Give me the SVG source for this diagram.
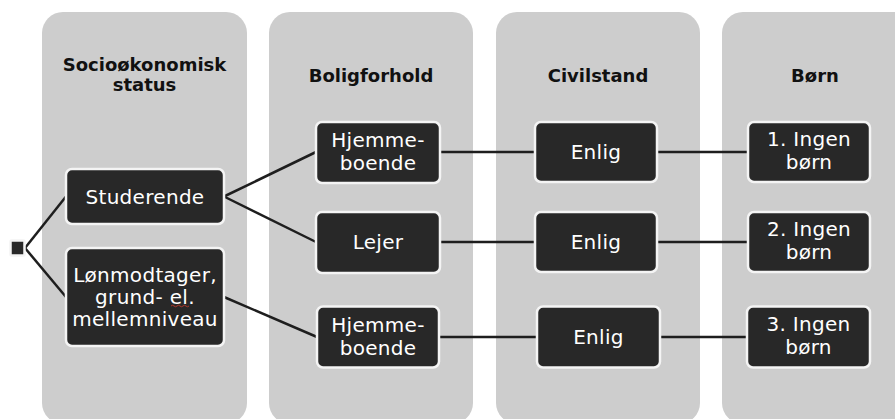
<svg xmlns="http://www.w3.org/2000/svg" width="895" height="419" viewBox="0 0 895 419">
<style>
.col{fill:#cdcdcd}
.hdr{font-family:"DejaVu Sans","Liberation Sans",sans-serif;font-weight:bold;font-size:18px;fill:#111;text-anchor:middle}
.box{fill:#282828;stroke:#f4f4f4;stroke-width:2.5}
.lbl{font-family:"DejaVu Sans","Liberation Sans",sans-serif;font-size:20px;fill:#ffffff;text-anchor:middle;letter-spacing:0.3px}
.con{stroke:#1e1e1e;stroke-width:2.5;fill:none}
</style>
<rect width="895" height="419" fill="#ffffff"/>
<g id="columns">
<rect class="col" x="42" y="12" width="205" height="412" rx="21"/>
<rect class="col" x="269" y="12" width="204" height="412" rx="21"/>
<rect class="col" x="496" y="12" width="204" height="412" rx="21"/>
<rect class="col" x="722" y="12" width="204" height="412" rx="21"/>
<text class="hdr" x="144.5" y="71">Socioøkonomisk</text>
<text class="hdr" x="144.5" y="91">status</text>
<text class="hdr" x="371" y="82">Boligforhold</text>
<text class="hdr" x="598" y="82">Civilstand</text>
<text class="hdr" x="815" y="82">Børn</text>
</g>
<g id="connectors">
<line class="con" x1="25" y1="248" x2="66" y2="196.5"/>
<line class="con" x1="25" y1="248" x2="66" y2="297"/>
<line class="con" x1="224" y1="196.5" x2="316" y2="152"/>
<line class="con" x1="224" y1="196.5" x2="316" y2="242"/>
<line class="con" x1="224" y1="297" x2="317" y2="337"/>
<line class="con" x1="440" y1="152" x2="535" y2="152"/>
<line class="con" x1="657" y1="152" x2="748" y2="152"/>
<line class="con" x1="440" y1="242" x2="535" y2="242"/>
<line class="con" x1="657" y1="242" x2="748" y2="242"/>
<line class="con" x1="439" y1="337" x2="537" y2="337"/>
<line class="con" x1="660" y1="337" x2="747" y2="337"/>
</g>
<g id="root"><rect class="box" x="10.5" y="240.5" width="14" height="15" rx="1" stroke-width="1.5"/></g>
<g id="studerende"><rect class="box" x="66" y="169" width="158" height="55" rx="6"/><text class="lbl" x="145" y="203.5">Studerende</text></g>
<g id="loenmodtager"><rect class="box" x="66" y="248" width="158" height="98" rx="6"/>
<text class="lbl" x="145" y="281.5">Lønmodtager,</text><text class="lbl" x="145" y="303.5">grund- el.</text><text class="lbl" x="145" y="325.5">mellemniveau</text>
<path d="M171 306 q1.5 -1.5 3 0 t3 0 t3 0 t3 0 t3 0 t3 0" stroke="#c0392b" stroke-width="0.9" fill="none"/></g>
<g id="hjemme1"><rect class="box" x="316" y="122" width="124" height="61" rx="6"/><text class="lbl" x="378" y="147">Hjemme-</text><text class="lbl" x="378" y="170">boende</text></g>
<g id="lejer"><rect class="box" x="316" y="212" width="124" height="61" rx="6"/><text class="lbl" x="378" y="249">Lejer</text></g>
<g id="hjemme3"><rect class="box" x="317" y="306.5" width="122" height="61" rx="6"/><text class="lbl" x="378" y="332">Hjemme-</text><text class="lbl" x="378" y="355">boende</text></g>
<g id="enlig1"><rect class="box" x="535" y="122" width="122" height="60" rx="6"/><text class="lbl" x="596" y="159">Enlig</text></g>
<g id="enlig2"><rect class="box" x="535" y="212" width="122" height="60" rx="6"/><text class="lbl" x="596" y="249">Enlig</text></g>
<g id="enlig3"><rect class="box" x="537" y="306.5" width="123" height="61" rx="6"/><text class="lbl" x="598.5" y="344">Enlig</text></g>
<g id="boern1"><rect class="box" x="748" y="122" width="122" height="60" rx="6"/><text class="lbl" x="809" y="146">1. Ingen</text><text class="lbl" x="809" y="169">børn</text></g>
<g id="boern2"><rect class="box" x="748" y="212" width="122" height="60" rx="6"/><text class="lbl" x="809" y="236">2. Ingen</text><text class="lbl" x="809" y="259">børn</text></g>
<g id="boern3"><rect class="box" x="747" y="306.5" width="123" height="61" rx="6"/><text class="lbl" x="808.5" y="331">3. Ingen</text><text class="lbl" x="808.5" y="354">børn</text></g>
</svg>
